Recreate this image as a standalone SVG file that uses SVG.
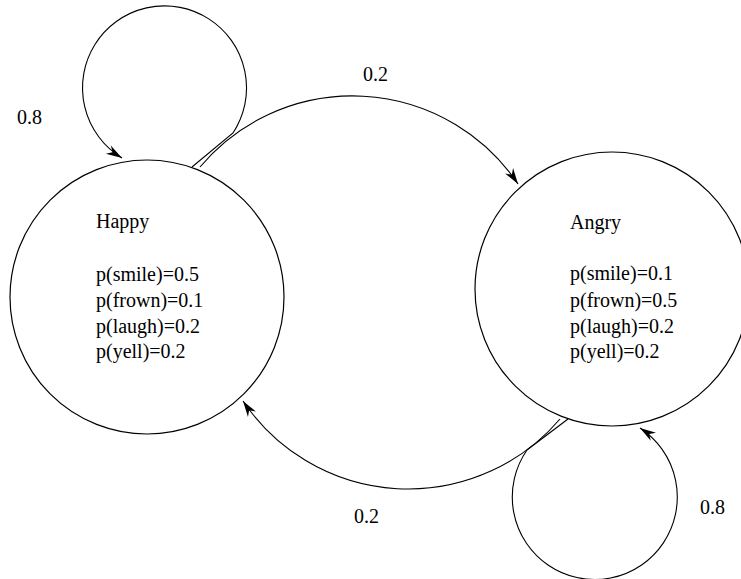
<svg xmlns="http://www.w3.org/2000/svg" width="741" height="579" viewBox="0 0 741 579">
<style>
.node{fill:none;stroke:#000;stroke-width:1.2}
.edge{fill:none;stroke:#000;stroke-width:1.1}
text{font-family:"Liberation Serif","Times New Roman",serif;font-size:20px;fill:#000}
</style>
<defs>
<marker id="arr" markerUnits="userSpaceOnUse" markerWidth="20" markerHeight="12" viewBox="-17 -6 18 12" refX="0" refY="0" orient="auto">
<path d="M0,0 L-16,-4.8 L-11,0 L-16,4.8 Z" fill="#000"/>
</marker>
</defs>
<rect width="741" height="579" fill="#fff"/>
<g id="connectors">
<path class="edge" d="M192,167 L233,133 A82,82 0 1 0 122,158" marker-end="url(#arr)"/>
<path class="edge" d="M200,167 A199.3,199.3 0 0 1 518,184" marker-end="url(#arr)"/>
<path class="edge" d="M568,419 L527,450 A82.5,82.5 0 1 0 640,428" marker-end="url(#arr)"/>
<path class="edge" d="M560,419 A199.3,199.3 0 0 1 243,401" marker-end="url(#arr)"/>
<text x="17" y="124">0.8</text>
<text x="363" y="81">0.2</text>
<text x="354" y="523">0.2</text>
<text x="700" y="514">0.8</text>
</g>
<g id="happy">
<circle class="node" cx="147" cy="297" r="137"/>
<text x="96" y="228">Happy</text>
<text x="96" y="281">p(smile)=0.5</text>
<text x="96" y="307">p(frown)=0.1</text>
<text x="96" y="333">p(laugh)=0.2</text>
<text x="96" y="358">p(yell)=0.2</text>
</g>
<g id="angry">
<circle class="node" cx="612" cy="289" r="137"/>
<text x="570" y="229">Angry</text>
<text x="570" y="280">p(smile)=0.1</text>
<text x="570" y="307">p(frown)=0.5</text>
<text x="570" y="333">p(laugh)=0.2</text>
<text x="570" y="358">p(yell)=0.2</text>
</g>
</svg>
